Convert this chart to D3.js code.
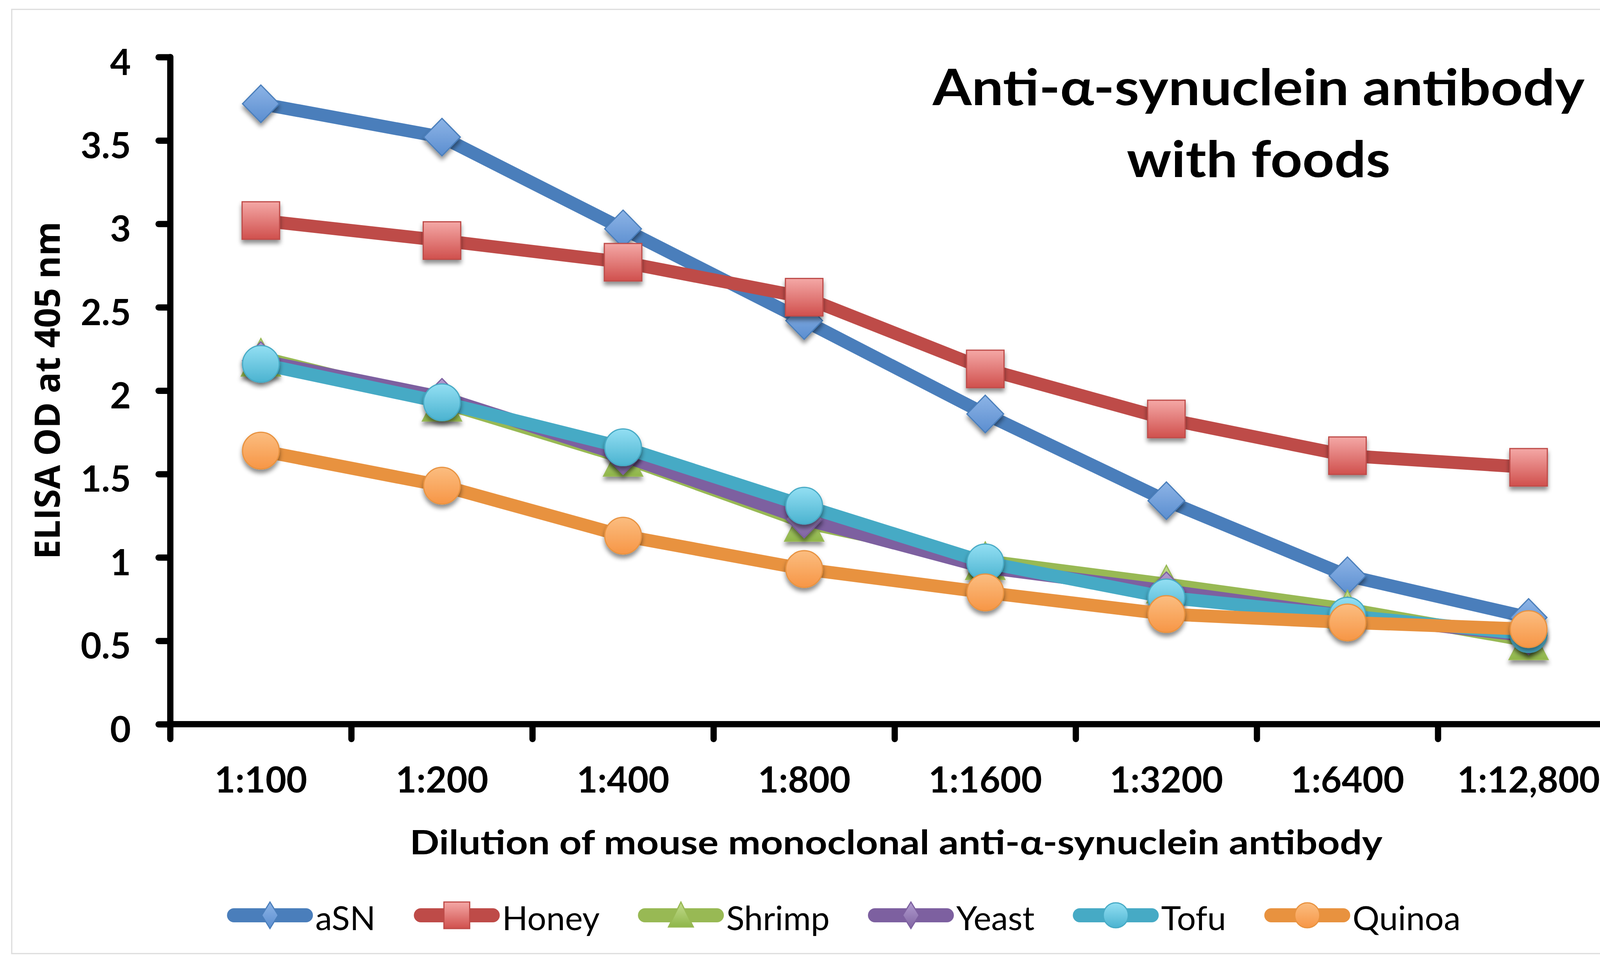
<!DOCTYPE html>
<html>
<head>
<meta charset="utf-8">
<script src="https://cdn.jsdelivr.net/npm/d3@7"></script>
<style>
  html, body { margin: 0; padding: 0; background: #ffffff; }
  svg { display: block; }
</style>
</head>
<body>
<svg id="chart"></svg>
<script>
// ---------------- DATA ----------------
const categories = ["1:100", "1:200", "1:400", "1:800", "1:1600", "1:3200", "1:6400", "1:12,800"];
const yTickValues = [0, 0.5, 1, 1.5, 2, 2.5, 3, 3.5, 4];
const seriesNames = ["aSN", "Honey", "Shrimp", "Yeast", "Tofu", "Quinoa"];
const aSN    = [3.72, 3.52, 2.97, 2.42, 1.86, 1.34, 0.89, 0.64];
const honey  = [3.02, 2.90, 2.77, 2.56, 2.13, 1.83, 1.61, 1.54];
const shrimp = [2.20, 1.93, 1.60, 1.21, 0.98, 0.84, 0.69, 0.50];
const yeast  = [2.18, 1.96, 1.61, 1.23, 0.94, 0.80, 0.65, 0.53];
const tofu   = [2.16, 1.93, 1.66, 1.31, 0.97, 0.76, 0.65, 0.54];
const quinoa = [1.64, 1.43, 1.13, 0.93, 0.79, 0.66, 0.61, 0.57];
const titleLines = ["Anti-\u03b1-synuclein antibody", "with foods"];
const xAxisTitle = "Dilution of mouse monoclonal anti-\u03b1-synuclein antibody";
const yAxisTitle = "ELISA OD at 405 nm";

// ---------------- STYLE ----------------
const seriesValues = [aSN, honey, shrimp, yeast, tofu, quinoa];
const lineColors = ["#4a7ebb", "#be4b48", "#98b954", "#7d60a0", "#46aac5", "#e8923f"];
const markerLight = ["#8db4e6", "#f4a8a6", "#c3dc8e", "#b19ccf", "#93dff3", "#fbbd80"];
const markerDark  = ["#5b8ed0", "#d0504d", "#8fb64a", "#8064a2", "#4bb3d0", "#f79646"];
const markerShapes = ["diamond", "square", "triangle", "diamond", "circle", "circle"];

const W = 4272, H = 2482;
const font = "Lato, 'Open Sans', sans-serif";

const svg = d3.select("#chart").attr("width", W).attr("height", H)
  .attr("viewBox", `0 0 ${W} ${H}`);

svg.append("rect").attr("x", 0).attr("y", 0).attr("width", W).attr("height", H).attr("fill", "#fff");
// outer frame
svg.append("rect").attr("x", 30).attr("y", 24).attr("width", 4197).attr("height", 2416)
  .attr("fill", "none").attr("stroke", "#dcdcdc").attr("stroke-width", 3);

const defs = svg.append("defs");
const filt = defs.append("filter").attr("id", "shadow")
  .attr("x", "-50%").attr("y", "-50%").attr("width", "200%").attr("height", "220%");
filt.append("feDropShadow").attr("dx", 0).attr("dy", 9).attr("stdDeviation", 6)
  .attr("flood-color", "#000").attr("flood-opacity", 0.45);

seriesNames.forEach((n, i) => {
  const g = defs.append("linearGradient").attr("id", "grad" + i)
    .attr("x1", 0).attr("y1", 0).attr("x2", 0).attr("y2", 1);
  g.append("stop").attr("offset", "0%").attr("stop-color", markerLight[i]);
  g.append("stop").attr("offset", "100%").attr("stop-color", markerDark[i]);
});

// ---------------- SCALES ----------------
const plotLeft = 436, plotRight = 4145, plotBottom = 1853, plotTop = 146;
const x = d3.scaleBand().domain(categories).range([plotLeft, plotRight]).padding(0);
const y = d3.scaleLinear().domain([0, 4]).range([plotBottom, plotTop]);
const cx = c => x(c) + x.bandwidth() / 2;

// ---------------- AXES ----------------
const axisW = 16;
// y axis ticks + labels
const yAxisG = svg.append("g").attr("transform", `translate(${plotLeft},0)`)
  .call(d3.axisLeft(y).tickValues(yTickValues).tickSize(30).tickSizeOuter(0).tickPadding(71)
    .tickFormat(d => String(d)));
yAxisG.select(".domain").remove();
yAxisG.selectAll(".tick line").attr("stroke", "#000").attr("stroke-width", axisW)
  .attr("stroke-linecap", "round").attr("x2", -30);
yAxisG.selectAll(".tick text").attr("dy", 45).attr("fill", "#000")
  .style("font-family", font).style("font-weight", 700).style("font-size", "92px");

// x axis labels
const xAxisG = svg.append("g").attr("transform", `translate(0,${plotBottom})`)
  .call(d3.axisBottom(x).tickSize(0).tickPadding(0));
xAxisG.select(".domain").remove();
xAxisG.selectAll(".tick line").remove();
xAxisG.selectAll(".tick text").attr("y", 175).attr("dy", 0).attr("fill", "#000")
  .style("font-family", font).style("font-weight", 700).style("font-size", "92px");

// x boundary ticks
const boundaries = categories.map(c => x(c)).concat([x(categories[categories.length - 1]) + x.bandwidth()]);
svg.append("g").selectAll("line").data(boundaries).join("line")
  .attr("x1", d => d).attr("x2", d => d)
  .attr("y1", plotBottom).attr("y2", plotBottom + 38)
  .attr("stroke", "#000").attr("stroke-width", axisW).attr("stroke-linecap", "round");

// axis lines
svg.append("line").attr("x1", plotLeft).attr("x2", plotLeft)
  .attr("y1", y(4)).attr("y2", y(0))
  .attr("stroke", "#000").attr("stroke-width", axisW).attr("stroke-linecap", "round");
svg.append("line").attr("x1", plotLeft).attr("x2", plotRight)
  .attr("y1", y(0)).attr("y2", y(0))
  .attr("stroke", "#000").attr("stroke-width", axisW).attr("stroke-linecap", "round");

// ---------------- SERIES ----------------
function markerPath(shape, s) {
  if (shape === "diamond") {
    const w = 47 * s, h = 48 * s;
    return `M0,${-h}L${w},0L0,${h}L${-w},0Z`;
  }
  if (shape === "square") {
    const a = 48 * s;
    return `M${-a},${-a}H${a}V${a}H${-a}Z`;
  }
  if (shape === "triangle") {
    const w = 50 * s, h = 48 * s;
    return `M0,${-h}L${w},${h}L${-w},${h}Z`;
  }
  const r = 47 * s;
  return `M${-r},0A${r},${r} 0 1,0 ${r},0A${r},${r} 0 1,0 ${-r},0Z`;
}

const line = d3.line().x((d, j) => cx(categories[j])).y(d => y(d));
seriesValues.forEach((vals, i) => {
  const g = svg.append("g").attr("class", "series");
  g.append("path").datum(vals).attr("d", line)
    .attr("fill", "none").attr("stroke", lineColors[i]).attr("stroke-width", 33)
    .attr("stroke-linejoin", "round").attr("stroke-linecap", "round");
  g.selectAll("path.m").data(vals).join("path").attr("class", "m")
    .attr("transform", (d, j) => `translate(${cx(categories[j])},${y(d)})`)
    .attr("d", markerPath(markerShapes[i], 1))
    .attr("fill", `url(#grad${i})`)
    .attr("stroke", lineColors[i]).attr("stroke-width", 3)
    .attr("filter", "url(#shadow)");
});

// ---------------- TITLES ----------------
const titleG = svg.append("g").style("font-family", font).style("font-weight", 700)
  .style("font-size", "128px").attr("fill", "#000").attr("text-anchor", "middle");
titleG.append("text").attr("x", 3222).attr("y", 269).text(titleLines[0])
  .attr("textLength", 1669).attr("lengthAdjust", "spacingAndGlyphs");
titleG.append("text").attr("x", 3222).attr("y", 453).text(titleLines[1])
  .attr("textLength", 675).attr("lengthAdjust", "spacingAndGlyphs");

svg.append("text").attr("x", 2294).attr("y", 2186).attr("text-anchor", "middle")
  .style("font-family", font).style("font-weight", 700).style("font-size", "86px")
  .attr("textLength", 2490).attr("lengthAdjust", "spacingAndGlyphs")
  .text(xAxisTitle);

svg.append("text").attr("transform", "translate(153,999) rotate(-90)").attr("text-anchor", "middle")
  .style("font-family", "'Open Sans', 'DejaVu Sans', sans-serif").style("font-weight", 700)
  .style("font-size", "90px").attr("textLength", 864).attr("lengthAdjust", "spacingAndGlyphs")
  .text(yAxisTitle);

// ---------------- LEGEND ----------------
const legendG = svg.append("g");
const legY = 2342, lineLen = 220, textGap = 6, itemGap = 98;
const items = [];
let cursor = 0;
seriesNames.forEach((n, i) => {
  const it = legendG.append("g");
  it.append("line").attr("x1", 18).attr("x2", lineLen - 18).attr("y1", 0).attr("y2", 0)
    .attr("stroke", lineColors[i]).attr("stroke-width", 36).attr("stroke-linecap", "round");
  let mp;
  if (markerShapes[i] === "diamond") mp = "M0,-34L21,0L0,34L-21,0Z";
  else if (markerShapes[i] === "square") mp = "M-33,-34H33V34H-33Z";
  else if (markerShapes[i] === "triangle") mp = "M0,-34L32,30L-32,30Z";
  else mp = "M-32,0A32,32 0 1,0 32,0A32,32 0 1,0 -32,0Z";
  it.append("path").attr("d", mp).attr("transform", `translate(${lineLen / 2},0)`)
    .attr("fill", `url(#grad${i})`).attr("stroke", lineColors[i]).attr("stroke-width", 3);
  const t = it.append("text").attr("x", lineLen + textGap).attr("y", 38)
    .style("font-family", font).style("font-size", "86px").attr("fill", "#000").text(n);
  const tw = t.node().getComputedTextLength();
  items.push({ g: it, start: cursor });
  cursor += lineLen + textGap + tw + itemGap;
});
const totalW = cursor - itemGap;
const legStart = 2160 - totalW / 2;
items.forEach(o => o.g.attr("transform", `translate(${legStart + o.start},${legY})`));
</script>
</body>
</html>
